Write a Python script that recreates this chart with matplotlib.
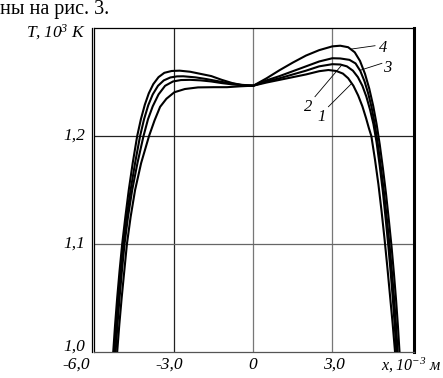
import matplotlib
matplotlib.use("Agg")
import matplotlib.pyplot as plt
from matplotlib.transforms import blended_transform_factory

plt.rcParams['font.family'] = ['Liberation Serif', 'DejaVu Serif']
plt.rcParams['mathtext.default'] = 'regular'

# ---- data ----
x1 = [-5.17, -5.09, -5.0, -4.9, -4.8, -4.66, -4.49, -4.26, -3.96, -3.75, -3.54, -3.3, -3.0, -2.6, -2.1,
      -1.5, -1.0, -0.5, 0.0,
      0.5, 1.0, 1.5, 2.0, 2.5, 2.85, 3.15, 3.4, 3.6, 3.8, 3.98, 4.14, 4.28, 4.39, 4.48,
      4.62, 4.75, 4.87, 4.98, 5.09, 5.19, 5.29, 5.38]
T1 = [1.000, 1.025, 1.050, 1.075, 1.100, 1.125, 1.150, 1.175, 1.200, 1.2145, 1.227, 1.2345, 1.2405, 1.2435, 1.245,
      1.2452, 1.2452, 1.246, 1.2466,
      1.2495, 1.252, 1.2545, 1.257, 1.260, 1.2611, 1.2602, 1.2578, 1.2535, 1.2465, 1.2375, 1.2275, 1.2165, 1.207, 1.200,
      1.178, 1.155, 1.130, 1.105, 1.078, 1.052, 1.026, 1.000]

x2 = [-5.23, -5.16, -5.08, -4.99, -4.89, -4.76, -4.60, -4.40, -4.17, -4.0, -3.82, -3.6, -3.35, -3.05, -2.75, -2.4,
      -2.0, -1.6, -1.2, -0.8, -0.4, 0.0,
      0.5, 1.0, 1.5, 2.0, 2.5, 3.0, 3.3, 3.55, 3.78, 3.97, 4.14, 4.29, 4.43, 4.56,
      4.68, 4.80, 4.92, 5.03, 5.13, 5.22, 5.30, 5.37, 5.43]
T2 = [1.000, 1.025, 1.050, 1.075, 1.100, 1.125, 1.150, 1.175, 1.200, 1.2155, 1.2275, 1.2385, 1.2465, 1.2505, 1.2518, 1.252,
      1.2515, 1.2505, 1.249, 1.2478, 1.247, 1.2466,
      1.2505, 1.2535, 1.257, 1.2605, 1.2645, 1.2665, 1.2662, 1.2645, 1.2605, 1.2545, 1.2465, 1.2365, 1.2245, 1.211,
      1.194, 1.172, 1.148, 1.122, 1.097, 1.072, 1.048, 1.024, 1.000]

x3 = [-5.28, -5.21, -5.13, -5.04, -4.94, -4.81, -4.66, -4.49, -4.30, -4.15, -3.99, -3.82, -3.62, -3.4, -3.15, -2.9, -2.66,
      -2.2, -1.8, -1.4, -1.0, -0.5, 0.0,
      0.5, 1.0, 1.5, 2.0, 2.5, 3.0, 3.3, 3.65, 3.88, 4.06, 4.22, 4.36, 4.49, 4.61,
      4.73, 4.85, 4.97, 5.08, 5.18, 5.27, 5.35, 5.42, 5.48]
T3 = [1.000, 1.025, 1.050, 1.075, 1.100, 1.125, 1.150, 1.175, 1.200, 1.2155, 1.2285, 1.2385, 1.2465, 1.2515, 1.2542, 1.2552, 1.2553,
      1.2543, 1.2528, 1.251, 1.2492, 1.2475, 1.2466,
      1.2515, 1.2555, 1.260, 1.2645, 1.269, 1.272, 1.2718, 1.2705, 1.2672, 1.2603, 1.2507, 1.2395, 1.2265, 1.211,
      1.192, 1.170, 1.146, 1.121, 1.097, 1.072, 1.048, 1.024, 1.000]

x4 = [-5.32, -5.25, -5.17, -5.08, -4.98, -4.86, -4.73, -4.58, -4.41, -4.27, -4.12, -3.97, -3.8, -3.6, -3.38, -3.1, -2.8,
      -2.4, -2.0, -1.6, -1.2, -0.8, -0.4, 0.0,
      0.5, 1.0, 1.5, 2.0, 2.5, 3.0, 3.3, 3.6, 3.85, 4.05, 4.24, 4.4, 4.55, 4.68,
      4.8, 4.92, 5.04, 5.15, 5.25, 5.34, 5.42, 5.49, 5.55]
T4 = [1.000, 1.025, 1.050, 1.075, 1.100, 1.125, 1.150, 1.175, 1.200, 1.2155, 1.229, 1.2395, 1.248, 1.2545, 1.2585, 1.2602, 1.2605,
      1.2595, 1.2575, 1.2555, 1.252, 1.249, 1.247, 1.2466,
      1.2534, 1.261, 1.268, 1.2745, 1.2795, 1.283, 1.2836, 1.2822, 1.2775, 1.2695, 1.2575, 1.244, 1.228, 1.211,
      1.192, 1.170, 1.146, 1.121, 1.097, 1.072, 1.048, 1.024, 1.000]

xticks = [-6.0, -3.0, 0.0, 3.0]
xtick_labels = ['-6,0', '-3,0', '0', '3,0']
yticks = [1.0, 1.1, 1.2]
ytick_labels = ['1,0', '1,1', '1,2']
curve_names = ['1', '2', '3', '4']
# label text position and leader line (curve point -> label side)
label_pos = [(2.61, 1.218), (2.08, 1.2273), (5.10, 1.2634), (4.91, 1.2815)]
leader_from = [(3.74, 1.2488), (3.36, 1.2658), (4.05, 1.2608), (3.72, 1.2805)]
leader_to = [(2.85, 1.2271), (2.34, 1.2364), (4.88, 1.2673), (4.62, 1.2836)]

# ---- figure ----
fig = plt.figure(figsize=(4.43, 3.78), dpi=100)
ax = fig.add_axes([94/443, 1 - 352/378, 320/443, 324/378])
ax.set_xlim(-6.05, 6.1)
ax.set_ylim(1.0, 1.3)

# grid lines
for xv, c in zip([-3.0, 0.0, 3.0], ['#222222', '#777777', '#777777']):
    ax.axvline(xv, color=c, lw=0.9, zorder=1)
for yv, c in zip([1.1, 1.2], ['#666666', '#222222']):
    ax.axhline(yv, color=c, lw=0.9, zorder=1)

for xs, ts in [(x1, T1), (x2, T2), (x3, T3), (x4, T4)]:
    ax.plot(xs, ts, color='black', lw=1.5, zorder=3, solid_joinstyle='round')

# curve labels with leader lines
for name, p, a, b in zip(curve_names, label_pos, leader_from, leader_to):
    ax.plot([a[0], b[0]], [a[1], b[1]], color='black', lw=0.6, zorder=3)
    ax.text(p[0], p[1], name, fontsize=12, style='italic', ha='center', va='center')

ax.set_xticks([])
ax.set_yticks([])
for s in ax.spines.values():
    s.set_color('black')
ax.spines['top'].set_linewidth(0.9)
ax.spines['bottom'].set_linewidth(0.9)
ax.spines['bottom'].set_color('#555555')
ax.spines['left'].set_linewidth(0.9)
ax.spines['right'].set_linewidth(2.2)
# double left frame line
ax.plot([-0.007, -0.007], [0, 1], transform=ax.transAxes, color='black', lw=0.9, clip_on=False)

# tick labels
tx = blended_transform_factory(ax.transData, ax.transAxes)
xoff = [-0.72, -0.2, -0.03, 0.07]
for v, lab, o in zip(xticks, xtick_labels, xoff):
    ax.text(v + o, -0.014, lab, transform=tx, ha='center', va='top', fontsize=12.5, style='italic')
ty = blended_transform_factory(ax.transAxes, ax.transData)
yoff = [0.005, 0.0, 0.0]
for v, lab, o in zip(yticks, ytick_labels, yoff):
    ax.text(-0.026, v + o, lab, transform=ty, ha='right', va='center', fontsize=12.5, style='italic')

ax.text(-0.026, 1.296, r'$T, 10^{3}$ K', transform=ty, ha='right', va='center', fontsize=12.5, style='italic')
ax.text(381/443, 1 - 356/378, r'$x, 10^{-3}$ м', transform=fig.transFigure, ha='left', va='top',
        fontsize=11.5, style='italic')
fig.text(0.0, 1 - 14/378, 'ны на рис. 3.', ha='left', va='baseline', fontsize=14.5)

fig.savefig('out.png', dpi=100)
